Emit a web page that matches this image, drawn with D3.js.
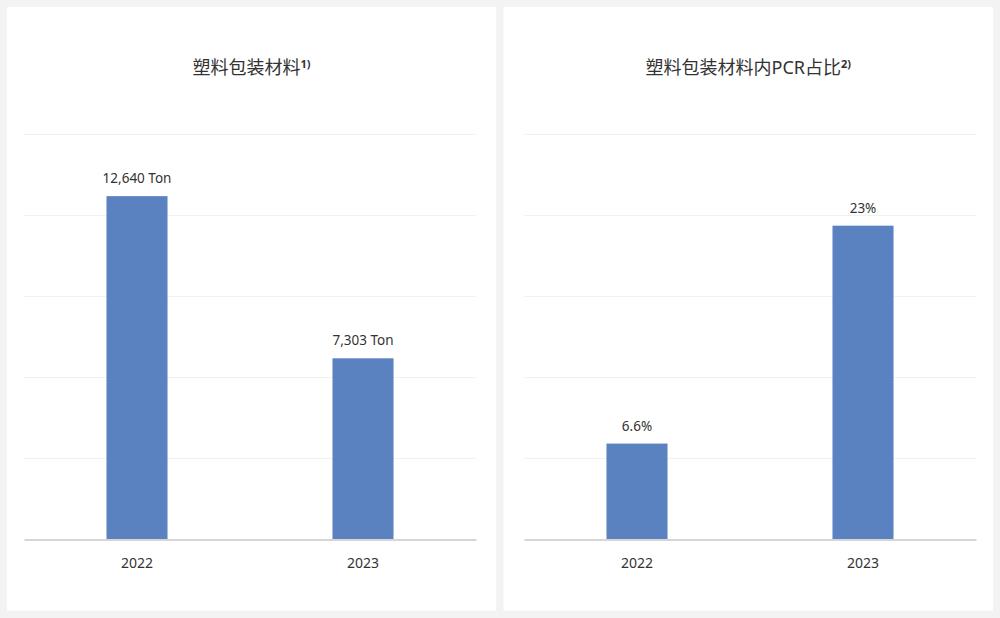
<!DOCTYPE html>
<html>
<head>
<meta charset="utf-8">
<script src="https://cdn.jsdelivr.net/npm/d3@7"></script>
<style>
  html, body { margin: 0; padding: 0; background: #f3f3f3; }
  svg { display: block; }
  text { font-family: "Noto Sans", "Noto Sans CJK SC", sans-serif; fill: #333; }
</style>
</head>
<body>
<svg id="chart" width="1000" height="618"></svg>
<script>
// ---- data ----
const years = ["2022", "2023"];
const plasticTons = [12640, 7303];
const pcrShare = [6.6, 23];
const plasticLabels = ["12,640 Ton", "7,303 Ton"];
const pcrLabels = ["6.6%", "23%"];
const titles = ["塑料包装材料", "塑料包装材料内PCR占比"];
const titleNotes = ["1)", "2)"];

const svg = d3.select("#chart");

const panels = [
  { x0: 7, x1: 496, left: 24, right: 476, values: plasticTons, labels: plasticLabels, title: titles[0], note: titleNotes[0], domain: [1340, 14685] },
  { x0: 503.5, x1: 993, left: 524, right: 976, values: pcrShare, labels: pcrLabels, title: titles[1], note: titleNotes[1], domain: [-0.62, 29.9] }
];

const yTop = 134, yBase = 539.5;

panels.forEach(p => {
  const g = svg.append("g");
  g.append("rect").attr("x", p.x0).attr("y", 7).attr("width", p.x1 - p.x0).attr("height", 603.5).attr("fill", "#fff");

  const left = p.left, right = p.right;
  const x = d3.scaleBand().domain(years).range([left, right]).paddingInner(0.73).paddingOuter(0.365);
  const y = d3.scaleLinear().domain(p.domain).range([yBase, yTop]);

  // grid lines
  const gridVals = d3.range(6).map(i => p.domain[0] + (p.domain[1] - p.domain[0]) * i / 5);
  g.selectAll(".grid").data(gridVals.slice(1)).join("line")
    .attr("x1", left).attr("x2", right)
    .attr("y1", d => Math.round(y(d)) + 0.5).attr("y2", d => Math.round(y(d)) + 0.5)
    .attr("stroke", "#f1f1f1").attr("stroke-width", 1);

  // bars
  g.selectAll(".bar").data(p.values).join("rect")
    .attr("x", (d, i) => x(years[i]))
    .attr("width", x.bandwidth())
    .attr("y", d => y(d))
    .attr("height", d => yBase - y(d))
    .attr("fill", "#5a81c0");

  // baseline axis
  const axis = g.append("g").attr("transform", `translate(0,${yBase})`)
    .call(d3.axisBottom(x).tickSize(0).tickPadding(18.5));
  axis.select(".domain").attr("stroke", "#d6d6d6").attr("stroke-width", 2);
  axis.selectAll("text").attr("font-size", 14).attr("fill", "#333")
    .style("font-family", '"Noto Sans", sans-serif');

  // value labels
  g.selectAll(".val").data(p.values).join("text")
    .attr("x", (d, i) => x(years[i]) + x.bandwidth() / 2)
    .attr("y", d => y(d) - 13)
    .attr("text-anchor", "middle")
    .attr("font-size", 13.5)
    .text((d, i) => p.labels[i]);

  // title
  const t = g.append("text")
    .attr("x", (p.x0 + p.x1) / 2)
    .attr("y", 74)
    .attr("text-anchor", "middle")
    .attr("font-size", 18);
  t.append("tspan").text(p.title);
  t.append("tspan").attr("font-size", 11).attr("font-weight", "bold").attr("dy", -6).text(p.note);
});
</script>
</body>
</html>
